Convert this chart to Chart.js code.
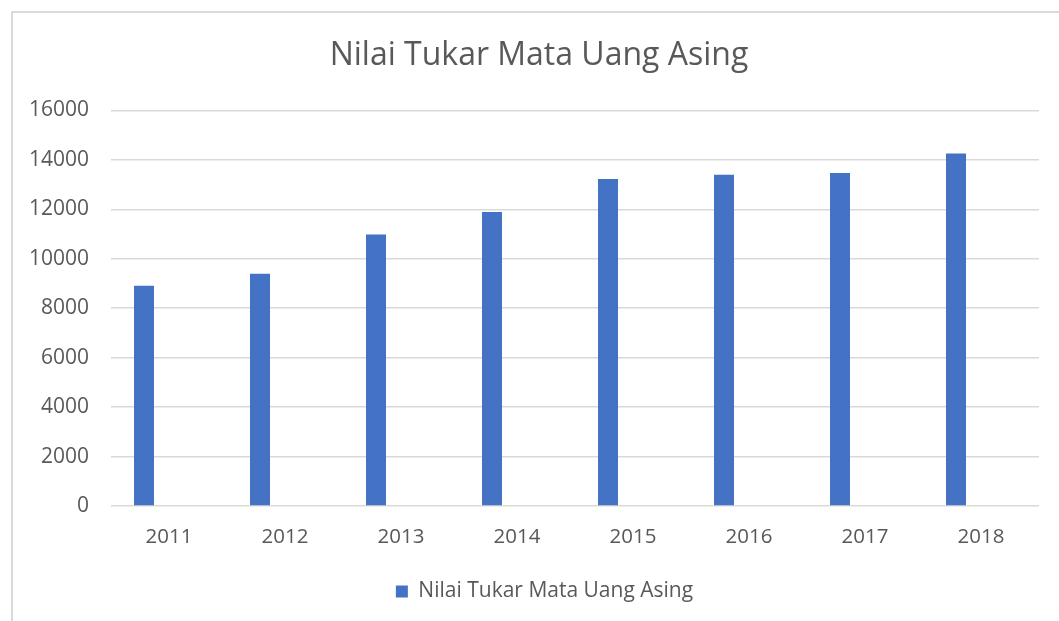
<!DOCTYPE html>
<html>
<head>
<meta charset="utf-8">
<script src="https://cdn.jsdelivr.net/npm/chart.js@4/dist/chart.umd.min.js"></script>
<style>
  html, body { margin: 0; padding: 0; background: #ffffff; }
  #wrap { position: relative; width: 1059px; height: 621px; overflow: hidden; }
  #frame { position: absolute; left: 11px; top: 11px; width: 1100px; height: 700px;
           border-left: 2px solid #d9d9d9; border-top: 2px solid #d9d9d9; box-sizing: border-box; }
  canvas { position: absolute; left: 0; top: 0; }
</style>
</head>
<body>
<div id="wrap">
  <div id="frame"></div>
  <canvas id="c" width="1059" height="621"></canvas>
</div>
<script>
const categories = ["2011", "2012", "2013", "2014", "2015", "2016", "2017", "2018"];
const seriesName = "Nilai Tukar Mata Uang Asing";
const values = [8910, 9390, 10980, 11890, 13230, 13400, 13470, 14260];
const emptySeries = [null, null, null, null, null, null, null, null];
const yTicks = [0, 2000, 4000, 6000, 8000, 10000, 12000, 14000, 16000];

const font = "'Open Sans', 'Noto Sans', sans-serif";
const textColor = "#595959";

// Centre the title and legend on the outer chart frame rather than the canvas.
const frameShift = {
  id: "frameShift",
  afterLayout(chart) {
    if (chart.titleBlock) { chart.titleBlock.left += 19.5; chart.titleBlock.right += 19.5; }
    if (chart.legend) { chart.legend.left += 25; chart.legend.right += 25; }
  }
};

new Chart(document.getElementById("c"), {
  type: "bar",
  data: {
    labels: categories,
    datasets: [
      { label: seriesName, data: values, backgroundColor: "#4472C4", borderWidth: 0,
        categoryPercentage: 0.862, barPercentage: 0.4 },
      { label: "", data: emptySeries, backgroundColor: "#ED7D31", borderWidth: 0,
        categoryPercentage: 0.862, barPercentage: 0.4 }
    ]
  },
  plugins: [frameShift],
  options: {
    responsive: false,
    animation: false,
    layout: { padding: { left: 0, right: 20, top: 0, bottom: 9 } },
    plugins: {
      title: {
        display: true,
        text: "Nilai Tukar Mata Uang Asing",
        color: textColor,
        font: { family: font, size: 32, weight: "normal" },
        padding: { top: 37, bottom: 35 }
      },
      legend: {
        position: "bottom",
        labels: {
          filter: (item) => item.datasetIndex === 0,
          color: textColor,
          font: { family: font, size: 21 },
          boxWidth: 12, boxHeight: 12, padding: 10
        }
      },
      tooltip: { enabled: false }
    },
    scales: {
      x: {
        grid: { display: false, drawTicks: false },
        border: { display: false },
        ticks: { color: textColor, font: { family: font, size: 20.5 }, padding: 19 },
        afterFit: (axis) => { axis.height = 65; }
      },
      y: {
        min: 0, max: 16000,
        afterBuildTicks: (axis) => { axis.ticks = yTicks.map(v => ({ value: v })); },
        grid: { color: "#d9d9d9", lineWidth: 1.5, drawTicks: false },
        border: { display: false },
        ticks: { color: textColor, font: { family: font, size: 21 }, padding: 22,
                 callback: (v) => String(v) },
        afterFit: (axis) => { axis.width = 111; }
      }
    }
  }
});
</script>
</body>
</html>
